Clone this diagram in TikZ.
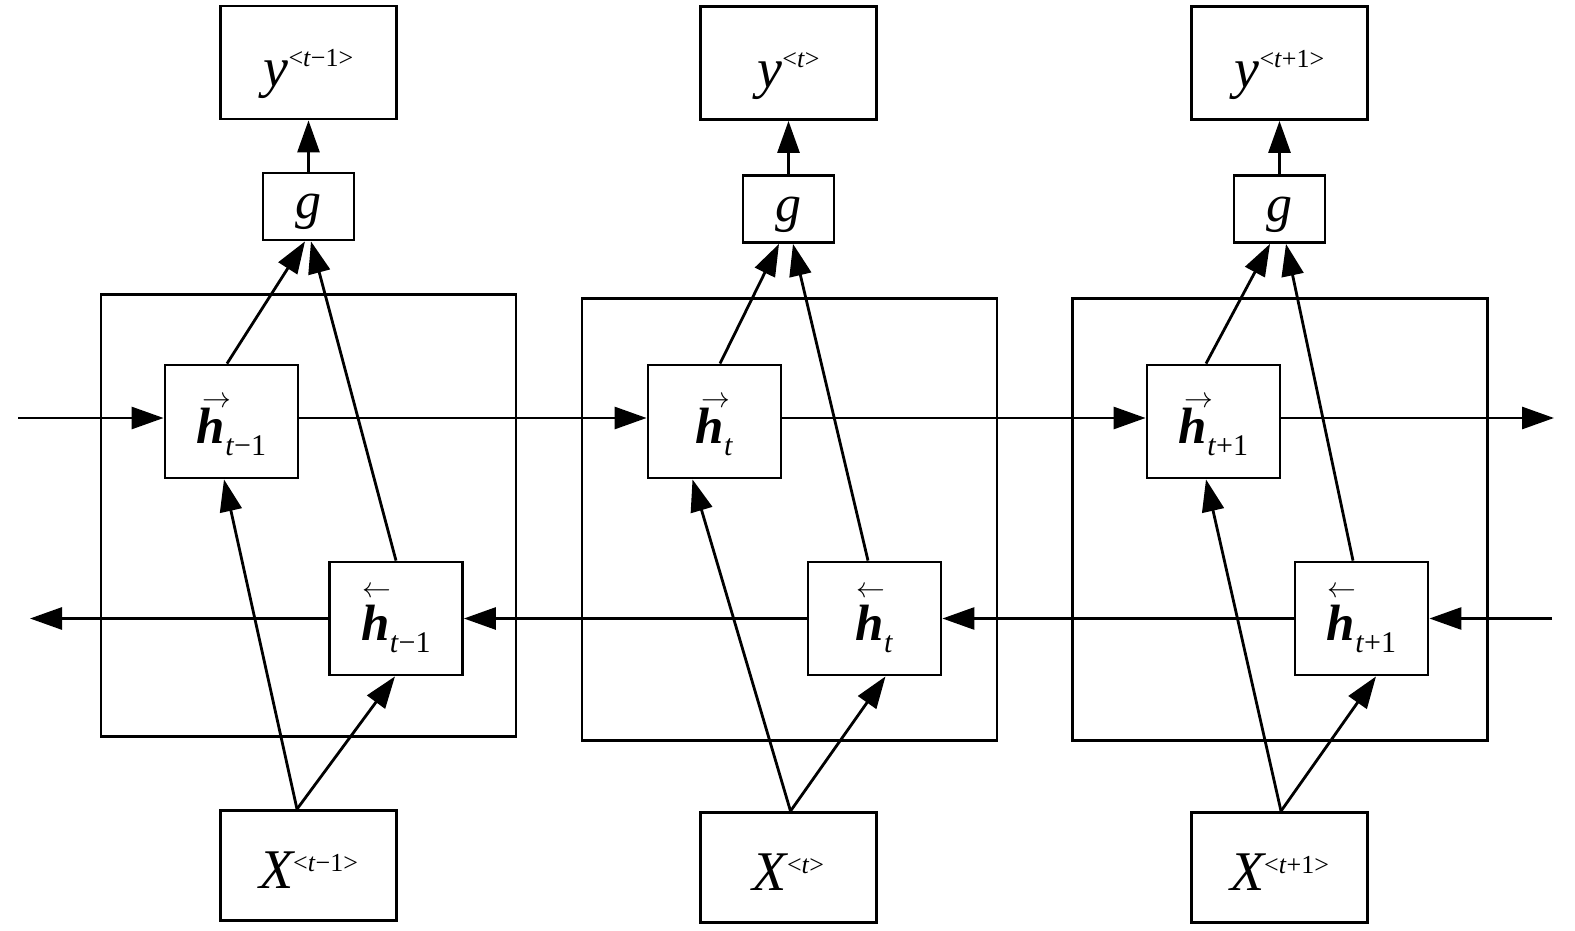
\documentclass[tikz,border=0pt]{standalone}
\usepackage{fontspec}
\setmainfont{Liberation Serif}
\usetikzlibrary{arrows.meta}

\newcommand{\supsz}{\fontsize{13pt}{13pt}\selectfont}
\newcommand{\subsz}{\fontsize{15pt}{15pt}\selectfont}
\newcommand{\Ylab}[1]{{\fontsize{28pt}{28pt}\selectfont\itshape y}\raisebox{10pt}{\supsz <\textit{t}#1>}}
\newcommand{\Xlab}[1]{{\fontsize{28pt}{28pt}\selectfont\itshape X}\raisebox{8.5pt}{\supsz <\textit{t}#1>}}
\newcommand{\Glab}{{\fontsize{26pt}{26pt}\selectfont\itshape g}}
\newcommand{\Hfwd}[1]{\rlap{\raisebox{18pt}{\hspace{3pt}\fontsize{14.5pt}{14.5pt}\selectfont$\rightarrow$}}{\fontsize{25.5pt}{25.5pt}\selectfont\bfseries\itshape h}\raisebox{-6pt}{\subsz\textit{t}#1}}
\newcommand{\Hbwd}[1]{\rlap{\raisebox{21.5pt}{\hspace{0.5pt}\fontsize{14.5pt}{14.5pt}\selectfont$\leftarrow$}}{\fontsize{25.5pt}{25.5pt}\selectfont\bfseries\itshape h}\raisebox{-6pt}{\subsz\textit{t}#1}}

\begin{document}
\begin{tikzpicture}[x=0.5pt,y=-0.5pt,
  box/.style={draw, line width=1.4pt, rectangle, inner sep=0pt, text depth=0pt},
  ybox/.style={box, minimum width=88pt, minimum height=56.5pt, text height=24.5pt},
  gbox/.style={box, minimum width=45.5pt, minimum height=33.5pt, text height=12.5pt},
  hbox/.style={box, minimum width=66.5pt, minimum height=56.5pt, text height=21.5pt},
  xbox/.style={box, minimum width=88pt, minimum height=55pt, text height=22.5pt},
  cell/.style={draw, line width=1.4pt, rectangle, inner sep=0pt, minimum width=207.5pt, minimum height=221pt},
  arr/.style={line width=1.4pt, -{Triangle[length=16pt,width=11pt]}}]
\useasboundingbox (0,0) rectangle (1575,931);

% column 1
\node[cell] (B1) at (308.5,515.5) {};
\node[ybox] (y1) at (308.5,62.5) {\Ylab{−1}};
\node[gbox] (g1) at (308.5,206.5) {\Glab};
\node[hbox] (fh1) at (231.5,421.5) {\Hfwd{−1}};
\node[hbox] (bh1) at (396,618.5) {\Hbwd{−1}};
\node[xbox] (X1) at (308.5,865.5) {\Xlab{−1}};

% column 2
\node[cell] (B2) at (789.5,519.5) {};
\node[ybox] (y2) at (788.5,63) {\Ylab{}};
\node[gbox] (g2) at (788.5,209) {\Glab};
\node[hbox] (fh2) at (714.5,421.5) {\Hfwd{}};
\node[hbox] (bh2) at (874.5,618.5) {\Hbwd{}};
\node[xbox] (X2) at (788.5,867.5) {\Xlab{}};

% column 3
\node[cell] (B3) at (1280,519.5) {};
\node[ybox] (y3) at (1279.5,63) {\Ylab{+1}};
\node[gbox] (g3) at (1279.5,209) {\Glab};
\node[hbox] (fh3) at (1213.5,421.5) {\Hfwd{+1}};
\node[hbox] (bh3) at (1361.5,618.5) {\Hbwd{+1}};
\node[xbox] (X3) at (1279.5,867.5) {\Xlab{+1}};

% free ends
\coordinate (inL) at (18,418);
\coordinate (outR) at (1554,418);
\coordinate (inR) at (1552,618.5);
\coordinate (outL) at (30,618.5);

% forward chain
\draw[arr] (inL) -- ([yshift=1.75pt]fh1.west);
\draw[arr] ([yshift=1.75pt]fh1.east) -- ([yshift=1.75pt]fh2.west);
\draw[arr] ([yshift=1.75pt]fh2.east) -- ([yshift=1.75pt]fh3.west);
\draw[arr] ([yshift=1.75pt]fh3.east) -- (outR);

% backward chain
\draw[arr] (inR) -- (bh3.east);
\draw[arr] (bh3.west) -- (bh2.east);
\draw[arr] (bh2.west) -- (bh1.east);
\draw[arr] (bh1.west) -- (outL);

% column 1 connections
\draw[arr] ([xshift=-5.75pt]X1.north) -- ([xshift=-3.75pt]fh1.south);
\draw[arr] ([xshift=-5.75pt]X1.north) -- ([xshift=-0.5pt]bh1.south);
\draw[arr] ([xshift=-2.25pt]fh1.north) -- ([xshift=-1.75pt]g1.south);
\draw[arr] (bh1.north) -- ([xshift=1.25pt]g1.south);
\draw[arr] (g1.north) -- (y1.south);

% column 2 connections
\draw[arr] ([xshift=1pt]X2.north) -- ([xshift=-11pt]fh2.south);
\draw[arr] ([xshift=1pt]X2.north) -- ([xshift=5.5pt]bh2.south);
\draw[arr] ([xshift=2.75pt]fh2.north) -- ([xshift=-4.75pt]g2.south);
\draw[arr] ([xshift=-3.25pt]bh2.north) -- ([xshift=2.25pt]g2.south);
\draw[arr] (g2.north) -- (y2.south);

% column 3 connections
\draw[arr] ([xshift=0.75pt]X3.north) -- ([xshift=-3.75pt]fh3.south);
\draw[arr] ([xshift=0.75pt]X3.north) -- ([xshift=7.25pt]bh3.south);
\draw[arr] ([xshift=-3.75pt]fh3.north) -- ([xshift=-4.75pt]g3.south);
\draw[arr] ([xshift=-4.25pt]bh3.north) -- ([xshift=3.25pt]g3.south);
\draw[arr] (g3.north) -- (y3.south);
\end{tikzpicture}
\end{document}
